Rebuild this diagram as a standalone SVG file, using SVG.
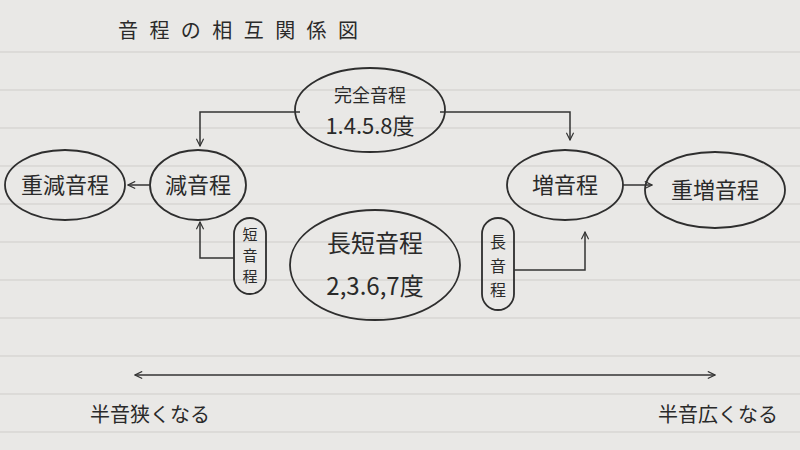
<svg xmlns="http://www.w3.org/2000/svg" width="800" height="450" viewBox="0 0 800 450">
<defs>
<marker id="ah" viewBox="0 0 10 10" refX="9" refY="5" markerWidth="9" markerHeight="9" orient="auto-start-reverse" markerUnits="userSpaceOnUse"><path d="M1,1 L9,5 L1,9" fill="none" stroke="#333" stroke-width="1.3"/></marker>
</defs>
<style>
.n{fill:none;stroke:#2e2e2e;stroke-width:1.8}
.t{font-family:"Noto Sans CJK JP",sans-serif;fill:#2a2a2a;text-anchor:middle}
.c{fill:none;stroke:#333;stroke-width:1.5;marker-end:url(#ah)}
.l{stroke:#cfcdca;stroke-width:1}
</style>
<rect width="800" height="450" fill="#e9e8e6"/>
<g>
<line class="l" x1="0" y1="52" x2="800" y2="52"/><line class="l" x1="0" y1="90" x2="800" y2="90"/>
<line class="l" x1="0" y1="128" x2="800" y2="128"/><line class="l" x1="0" y1="166" x2="800" y2="166"/>
<line class="l" x1="0" y1="204" x2="800" y2="204"/><line class="l" x1="0" y1="242" x2="800" y2="242"/>
<line class="l" x1="0" y1="280" x2="800" y2="280"/><line class="l" x1="0" y1="318" x2="800" y2="318"/>
<line class="l" x1="0" y1="356" x2="800" y2="356"/><line class="l" x1="0" y1="394" x2="800" y2="394"/>
<line class="l" x1="0" y1="432" x2="800" y2="432"/>
</g>
<text class="t" x="238" y="38" font-size="20" textLength="240">音程の相互関係図</text>
<g id="kanzen"><ellipse class="n" cx="370" cy="110" rx="75" ry="42"/><text class="t" x="370" y="102" font-size="18">完全音程</text><text class="t" x="370" y="134" font-size="22">1.4.5.8度</text></g>
<g id="jugen"><ellipse class="n" cx="65" cy="185" rx="60" ry="35"/><text class="t" x="65" y="193" font-size="22">重減音程</text></g>
<g id="gen"><ellipse class="n" cx="198" cy="185" rx="48" ry="35"/><text class="t" x="198" y="193" font-size="22">減音程</text></g>
<g id="zo"><ellipse class="n" cx="565" cy="185" rx="58" ry="35"/><text class="t" x="565" y="193" font-size="22">増音程</text></g>
<g id="juzo"><ellipse class="n" cx="715" cy="190" rx="70" ry="38"/><text class="t" x="715" y="198" font-size="22">重増音程</text></g>
<g id="chotan"><ellipse class="n" cx="375" cy="265" rx="85" ry="55"/><text class="t" x="375" y="252" font-size="24">長短音程</text><text class="t" x="375" y="295" font-size="24">2,3.6,7度</text></g>
<g id="tan"><rect class="n" x="234" y="218" width="32" height="76" rx="16"/><text class="t" x="250" y="240" font-size="15">短</text><text class="t" x="250" y="261" font-size="15">音</text><text class="t" x="250" y="282" font-size="15">程</text></g>
<g id="cho"><rect class="n" x="482" y="218" width="32" height="92" rx="16"/><text class="t" x="498" y="248" font-size="16">長</text><text class="t" x="498" y="272" font-size="16">音</text><text class="t" x="498" y="296" font-size="16">程</text></g>
<g id="connectors">
<path class="c" d="M300,112 H200 V146"/>
<path class="c" d="M440,112 H570 V140"/>
<path class="c" d="M150,185 H128"/>
<path class="c" d="M623,185 H652"/>
<path class="c" d="M234,258 H200 V222"/>
<path class="c" d="M514,270 H585 V232"/>
<path class="c" d="M135,375 H715" marker-start="url(#ah)"/>
</g>
<text class="t" x="150" y="422" font-size="20">半音狭くなる</text>
<text class="t" x="718" y="422" font-size="20">半音広くなる</text>
</svg>
